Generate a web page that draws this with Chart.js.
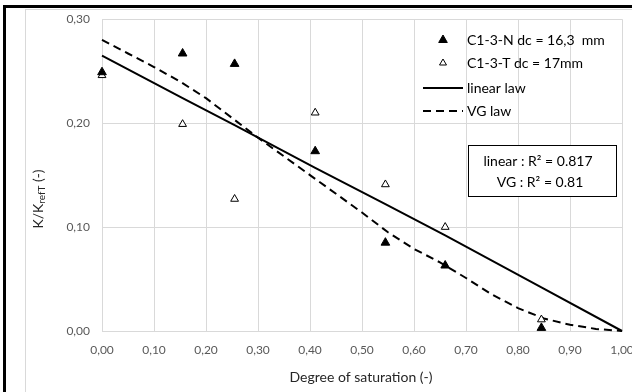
<!DOCTYPE html>
<html>
<head>
<meta charset="utf-8">
<script src="https://cdn.jsdelivr.net/npm/chart.js@4.4.1/dist/chart.umd.min.js"></script>
<style>
    html, body { margin: 0; padding: 0; background: #fff; }
</style>
</head>
<body>
<canvas id="SaturationChart" width="632" height="392"></canvas>
<script>
const FontName = 'Lato, "Liberation Sans", sans-serif';

// measured points
const sampleNX = [0.000, 0.155, 0.255, 0.410, 0.545, 0.660, 0.845];
const sampleNY = [0.249, 0.267, 0.257, 0.173, 0.085, 0.063, 0.003];
const sampleTX = [0.000, 0.155, 0.255, 0.410, 0.545, 0.660, 0.845];
const sampleTY = [0.246, 0.199, 0.127, 0.210, 0.141, 0.100, 0.011];

// fitted laws
const linearX = [0.000, 0.155, 0.255, 0.410, 0.545, 0.660, 0.845, 1.000];
const linearY = [0.265, 0.224, 0.198, 0.157, 0.122, 0.092, 0.042, 0.000];
const vgX = [0.00, 0.05, 0.10, 0.15, 0.20, 0.25, 0.30, 0.35, 0.40, 0.45, 0.50,
             0.55, 0.60, 0.65, 0.70, 0.75, 0.80, 0.85, 0.90, 0.95, 1.00];
const vgY = [0.280, 0.267, 0.254, 0.240, 0.224, 0.205, 0.186, 0.168, 0.150, 0.132, 0.114,
             0.095, 0.079, 0.066, 0.051, 0.035, 0.022, 0.012, 0.006, 0.002, 0.000];

const xTicks = [0.0, 0.1, 0.2, 0.3, 0.4, 0.5, 0.6, 0.7, 0.8, 0.9, 1.0];
const yTicks = [0.0, 0.1, 0.2, 0.3];

const seriesLabels = ['C1-3-N dc = 16,3  mm', 'C1-3-T dc = 17mm', 'linear law', 'VG law'];
const fitLabels = ['linear : R\u00B2 = 0.817', 'VG : R\u00B2 = 0.81'];
const xTitle = 'Degree of saturation (-)';

function ToPoints(xs, ys)
{
    return xs.map((x, i) => ({ x: x, y: ys[i] }));
}

function FormatTick(v)
{
    return v.toFixed(2).replace('.', ',');
}

const excelDecor = {
    id: 'excelDecor',
    beforeDraw(chart) {
        const ctx = chart.ctx;
        ctx.save();
        ctx.fillStyle = '#FFFFFF';
        ctx.fillRect(0, 0, chart.width, chart.height);
        ctx.fillStyle = '#000000';
        ctx.fillRect(3, 5, chart.width - 3, 3);
        ctx.fillRect(3, 5, 3, chart.height - 5);
        ctx.strokeStyle = '#D9D9D9';
        ctx.lineWidth = 1;
        ctx.beginPath();
        ctx.moveTo(25.5, 9);
        ctx.lineTo(25.5, chart.height);
        ctx.moveTo(26, 9.5);
        ctx.lineTo(chart.width, 9.5);
        ctx.stroke();
        ctx.restore();
    },
    afterDraw(chart) {
        const ctx = chart.ctx;
        const xs = chart.scales.x;
        ctx.save();

        // x tick labels
        ctx.fillStyle = '#595959';
        ctx.font = '12px ' + FontName;
        ctx.textAlign = 'center';
        ctx.textBaseline = 'middle';
        for (let v of xTicks) {
            ctx.fillText(FormatTick(v), xs.getPixelForValue(v), 350);
        }

        // axis titles
        ctx.fillStyle = '#262626';
        ctx.font = '14px ' + FontName;
        ctx.fillText(xTitle, 361, 377);

        ctx.save();
        ctx.translate(38, 199);
        ctx.rotate(-Math.PI / 2);
        ctx.textAlign = 'left';
        const big = '14px ' + FontName;
        const small = '10px ' + FontName;
        ctx.font = big;
        const w1 = ctx.measureText('K/K').width;
        const w3 = ctx.measureText(' (-)').width;
        ctx.font = small;
        const w2 = ctx.measureText('refT').width;
        let pos = -(w1 + w2 + w3) / 2;
        ctx.font = big;
        ctx.fillText('K/K', pos, 0);
        pos += w1;
        ctx.font = small;
        ctx.fillText('refT', pos, 4);
        pos += w2;
        ctx.font = big;
        ctx.fillText(' (-)', pos, 0);
        ctx.restore();

        // legend
        const rows = [40, 63, 88, 111];
        ctx.font = '14px ' + FontName;
        ctx.textAlign = 'left';
        ctx.fillStyle = '#000000';
        rows.forEach((ry, i) => {
            ctx.fillText(seriesLabels[i], 467, ry);
        });
        const ds = chart.data.datasets;
        ctx.fillStyle = '#000000';
        ctx.strokeStyle = '#000000';
        ctx.lineWidth = 1;
        ctx.beginPath();
        ctx.moveTo(443, rows[0] - 5);
        ctx.lineTo(447.3, rows[0] + 2.5);
        ctx.lineTo(438.7, rows[0] + 2.5);
        ctx.closePath();
        ctx.fill();
        ctx.stroke();
        ctx.beginPath();
        ctx.fillStyle = '#FFFFFF';
        ctx.moveTo(443, rows[1] - 4);
        ctx.lineTo(446.5, rows[1] + 2);
        ctx.lineTo(439.5, rows[1] + 2);
        ctx.closePath();
        ctx.fill();
        ctx.stroke();
        ctx.lineWidth = ds[2].borderWidth;
        ctx.beginPath();
        ctx.moveTo(423, rows[2]);
        ctx.lineTo(463, rows[2]);
        ctx.stroke();
        ctx.setLineDash(ds[3].borderDash);
        ctx.beginPath();
        ctx.moveTo(423, rows[3]);
        ctx.lineTo(463, rows[3]);
        ctx.stroke();
        ctx.setLineDash([]);

        // R2 box
        ctx.fillStyle = '#FFFFFF';
        ctx.fillRect(468, 145, 149, 52);
        ctx.strokeStyle = '#000000';
        ctx.lineWidth = 1;
        ctx.strokeRect(468.5, 145.5, 148, 51);
        ctx.fillStyle = '#000000';
        ctx.textAlign = 'center';
        ctx.fillText(fitLabels[0], 538, 161);
        ctx.fillText(fitLabels[1], 540, 182);

        ctx.restore();
    }
};

new Chart(document.getElementById('SaturationChart'),
{
    type: 'scatter',
    data:
    {
        datasets:
        [
            {
                label: seriesLabels[0],
                data: ToPoints(sampleNX, sampleNY),
                pointStyle: 'triangle',
                pointRadius: 5,
                backgroundColor: '#000000',
                borderColor: '#000000',
                borderWidth: 1,
                clip: false
            },
            {
                label: seriesLabels[1],
                data: ToPoints(sampleTX, sampleTY),
                pointStyle: 'triangle',
                pointRadius: 4.5,
                backgroundColor: '#FFFFFF',
                borderColor: '#000000',
                borderWidth: 1,
                clip: false
            },
            {
                label: seriesLabels[2],
                data: ToPoints(linearX, linearY),
                showLine: true,
                pointRadius: 0,
                borderColor: '#000000',
                borderWidth: 2,
                clip: false
            },
            {
                label: seriesLabels[3],
                data: ToPoints(vgX, vgY),
                showLine: true,
                pointRadius: 0,
                borderColor: '#000000',
                borderWidth: 2,
                borderDash: [8, 5],
                tension: 0,
                clip: false
            }
        ]
    },
    options:
    {
        responsive: false,
        animation: false,
        devicePixelRatio: 1,
        layout: { padding: { left: 32, right: 10, top: 17, bottom: 0 } },
        plugins:
        {
            legend: { display: false },
            tooltip: { enabled: false }
        },
        scales:
        {
            x:
            {
                type: 'linear',
                min: 0,
                max: 1,
                afterBuildTicks: (s) => { s.ticks = xTicks.map(v => ({ value: v })); },
                ticks: { display: false },
                grid: { color: '#D9D9D9', drawTicks: false },
                border: { color: '#D9D9D9' },
                afterFit: (s) => { s.height = 61; }
            },
            y:
            {
                type: 'linear',
                min: 0,
                max: 0.3,
                afterBuildTicks: (s) => { s.ticks = yTicks.map(v => ({ value: v })); },
                ticks:
                {
                    color: '#595959',
                    font: { family: FontName, size: 12 },
                    padding: 12,
                    callback: (v) => FormatTick(v)
                },
                grid: { color: '#D9D9D9', drawTicks: false },
                border: { color: '#D9D9D9' },
                afterFit: (s) => { s.width = 70; }
            }
        }
    },
    plugins: [excelDecor]
});
</script>
</body>
</html>
